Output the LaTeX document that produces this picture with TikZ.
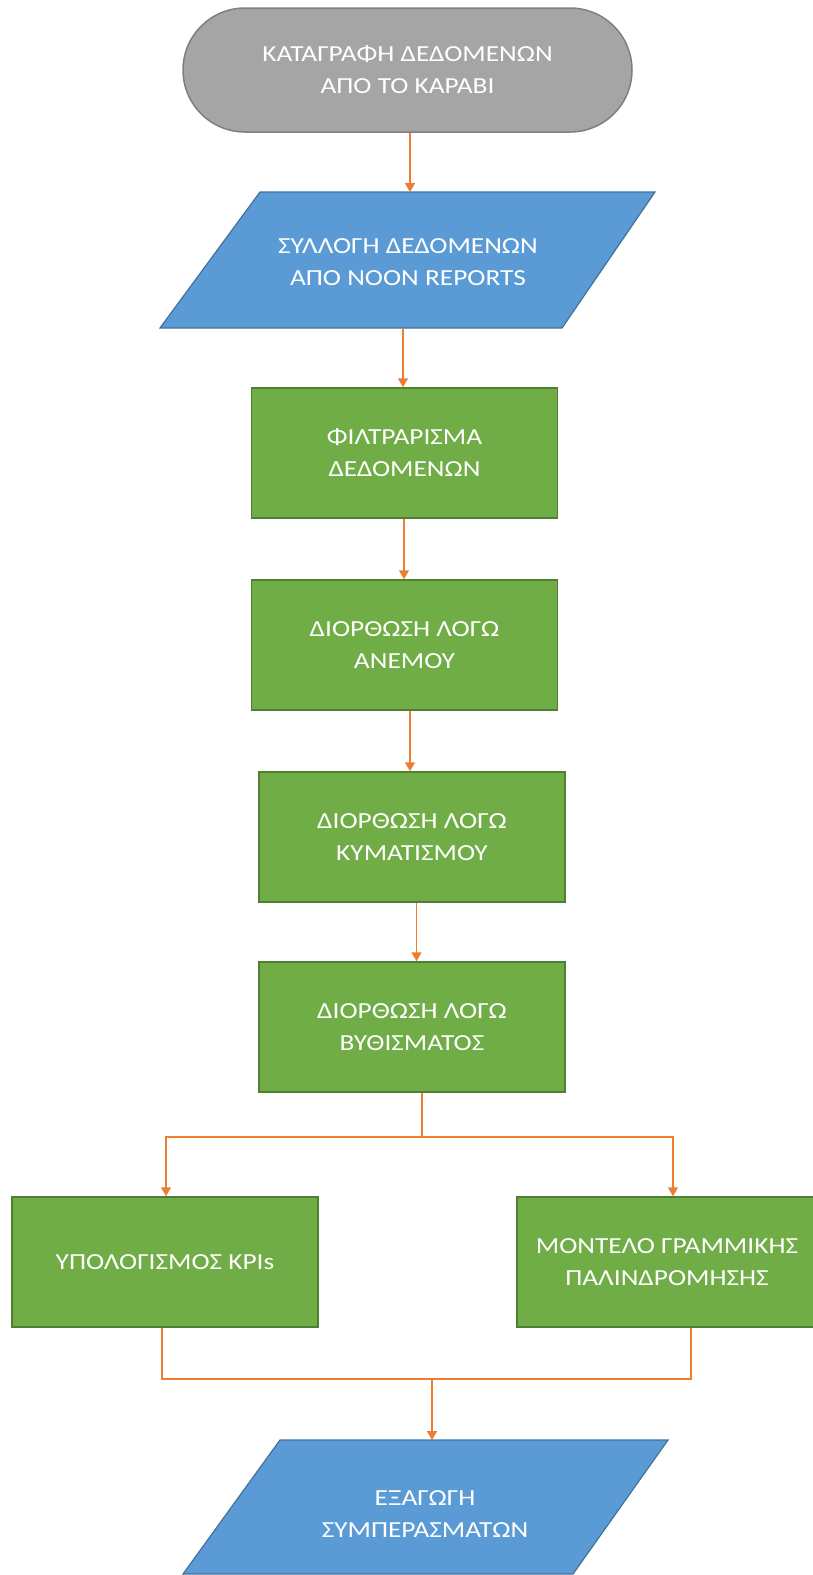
\documentclass[tikz,border=0pt]{standalone}
\usepackage{fontspec}
\setmainfont{Carlito}[FakeStretch=1.19]
\usetikzlibrary{arrows.meta}
\definecolor{grayfill}{HTML}{A5A5A5}
\definecolor{graydraw}{HTML}{7F7F7F}
\definecolor{bluefill}{HTML}{5B9BD5}
\definecolor{bluedraw}{HTML}{41719C}
\definecolor{greenfill}{HTML}{70AD47}
\definecolor{greendraw}{HTML}{507E32}
\definecolor{orangeline}{HTML}{ED7D31}
\begin{document}
\begin{tikzpicture}[x=1pt,y=-1pt,
  lbl/.style={text=white,font=\fontsize{23}{32}\selectfont,align=center,inner sep=0pt},
  termbox/.style={lbl,rectangle,rounded corners=62pt,draw=graydraw,fill=grayfill,line width=1.5pt,minimum width=449pt,minimum height=124pt},
  procbox/.style={lbl,rectangle,draw=greendraw,fill=greenfill,line width=1.5pt,minimum width=306pt,minimum height=130pt},
  iobox/.style={draw=bluedraw,fill=bluefill,line width=1.2pt,line join=miter},
  arr/.style={draw=orangeline,line width=1.5pt,-{Triangle[width=10pt,length=9pt]}},
  conn/.style={draw=orangeline,line width=1.5pt}]
\useasboundingbox (0,0) rectangle (812,1575);

% shapes
\node[termbox] (t) at (407.5,70) {ΚΑΤΑΓΡΑΦΗ ΔΕΔΟΜΕΝΩΝ\\ΑΠΟ ΤΟ ΚΑΡΑΒΙ};

\draw[iobox] (260,192) -- (655,192) -- (562,328) -- (160,328) -- cycle;
\node[lbl] (p1) at (408,262) {ΣΥΛΛΟΓΗ ΔΕΔΟΜΕΝΩΝ\\ΑΠΟ NOON REPORTS};
\coordinate (p1t) at (410,192);
\coordinate (p1b) at (403,328);

\node[procbox] (b1) at (404.5,453) {ΦΙΛΤΡΑΡΙΣΜΑ\\ΔΕΔΟΜΕΝΩΝ};
\node[procbox] (b2) at (404.5,645) {ΔΙΟΡΘΩΣΗ ΛΟΓΩ\\ΑΝΕΜΟΥ};
\node[procbox] (b3) at (412,837) {ΔΙΟΡΘΩΣΗ ΛΟΓΩ\\ΚΥΜΑΤΙΣΜΟΥ};
\node[procbox] (b4) at (412,1027) {ΔΙΟΡΘΩΣΗ ΛΟΓΩ\\ΒΥΘΙΣΜΑΤΟΣ};
\node[procbox] (k) at (165,1262) {ΥΠΟΛΟΓΙΣΜΟΣ KPIs};
\node[procbox,minimum width=300pt] (m) at (667,1262) {ΜΟΝΤΕΛΟ ΓΡΑΜΜΙΚΗΣ\\ΠΑΛΙΝΔΡΟΜΗΣΗΣ};

\draw[iobox] (280,1440) -- (668,1440) -- (573,1574) -- (183,1574) -- cycle;
\node[lbl] (p2) at (425,1514) {ΕΞΑΓΩΓΗ\\ΣΥΜΠΕΡΑΣΜΑΤΩΝ};
\coordinate (p2t) at (432,1440);

% x positions of connectors
\coordinate (x3) at (404,0);
\coordinate (x4) at (410,0);
\coordinate (x5) at (416.5,0);
\coordinate (x6) at (422,0);
\coordinate (xk1) at (166,0);
\coordinate (xm1) at (673,0);
\coordinate (xk2) at (162,0);
\coordinate (xm2) at (691,0);
\coordinate (split) at (422,1137);
\coordinate (merge) at (432,1379);

% connectors
\draw[arr] (t.south -| p1t) -- (p1t);
\draw[arr] (p1b) -- (b1.north -| p1b);
\draw[arr] (b1.south -| x3) -- (b2.north -| x3);
\draw[arr] (b2.south -| x4) -- (b3.north -| x4);
\draw[arr] (b3.south -| x5) -- (b4.north -| x5);
\draw[conn] (b4.south -| x6) -- (split);
\draw[arr] (split) -| (k.north -| xk1);
\draw[arr] (split) -| (m.north -| xm1);
\draw[conn] (k.south -| xk2) |- (merge);
\draw[conn] (m.south -| xm2) |- (merge);
\draw[arr] (merge) -- (p2t);
\end{tikzpicture}
\end{document}
